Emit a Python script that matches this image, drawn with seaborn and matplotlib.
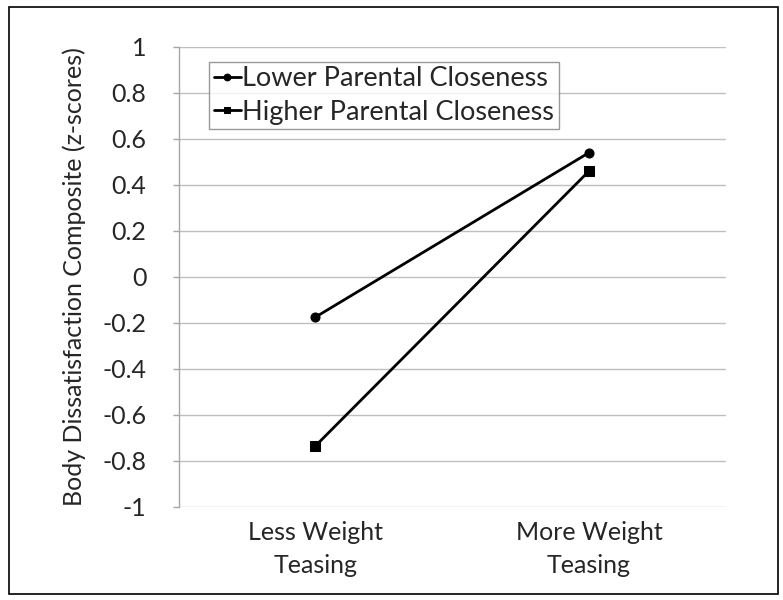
import pandas as pd
import matplotlib.pyplot as plt
import matplotlib.patches as mpatches
import seaborn as sns

# data
categories = ['Less Weight\nTeasing', 'More Weight\nTeasing']
lower_closeness = [-0.175, 0.54]
higher_closeness = [-0.735, 0.46]
groups = ['Lower Parental Closeness', 'Higher Parental Closeness']
y_ticks = [-1, -0.8, -0.6, -0.4, -0.2, 0, 0.2, 0.4, 0.6, 0.8, 1]

df = pd.DataFrame({
    'x': categories * 2,
    'y': lower_closeness + higher_closeness,
    'group': [groups[0]] * 2 + [groups[1]] * 2,
})

sns.set_style('white')
plt.rcParams['font.family'] = ['Lato', 'DejaVu Sans']
FS = 18

fig = plt.figure(figsize=(7.83, 6), dpi=100)
ax = fig.add_axes([0.228, 0.155, 0.699, 0.767])

# light horizontal gridlines like Excel
for t in y_ticks:
    ax.axhline(t, color='#bfbfbf', lw=1, zorder=0)

sns.lineplot(data=df, x='x', y='y', hue='group', style='group',
             palette=['black', 'black'], markers={groups[0]: 'o', groups[1]: 's'},
             dashes=False, markersize=6.5, lw=2, markeredgecolor='black',
             sort=False, ax=ax, zorder=3)

ax.set_xlim(-0.5, 1.5)
ax.set_ylim(-1, 1)
ax.set_yticks(y_ticks)
ax.set_yticklabels([f'{t:g}' for t in y_ticks], fontsize=FS)
ax.set_xticks([0, 1])
ax.set_xticklabels(categories, fontsize=FS, linespacing=1.55)
ax.tick_params(axis='x', pad=10, length=0)
ax.tick_params(axis='y', pad=19, length=4, width=1, color='#a6a6a6', left=True)
ax.set_xlabel('')
ax.set_ylabel('Body Dissatisfaction Composite (z-scores)', fontsize=FS, labelpad=12)
for s in ['top', 'right', 'bottom']:
    ax.spines[s].set_visible(False)
ax.spines['left'].set_color('#a6a6a6')
ax.spines['left'].set_linewidth(1)

leg = ax.legend(loc='upper left', bbox_to_anchor=(0.055, 0.968),
                prop={'size': 19.5},
                frameon=True, fancybox=False, edgecolor='#808080',
                handlelength=1.0, handletextpad=0.05, borderpad=0.18,
                labelspacing=0.3, borderaxespad=0, markerscale=0.75)
leg.get_frame().set_linewidth(1)

# outer chart border
fig.patches.append(mpatches.Rectangle((0.011, 0.01), 0.982, 0.978, transform=fig.transFigure,
                                      fill=False, edgecolor='black', lw=1.2))

fig.savefig('out.png', dpi=100)
